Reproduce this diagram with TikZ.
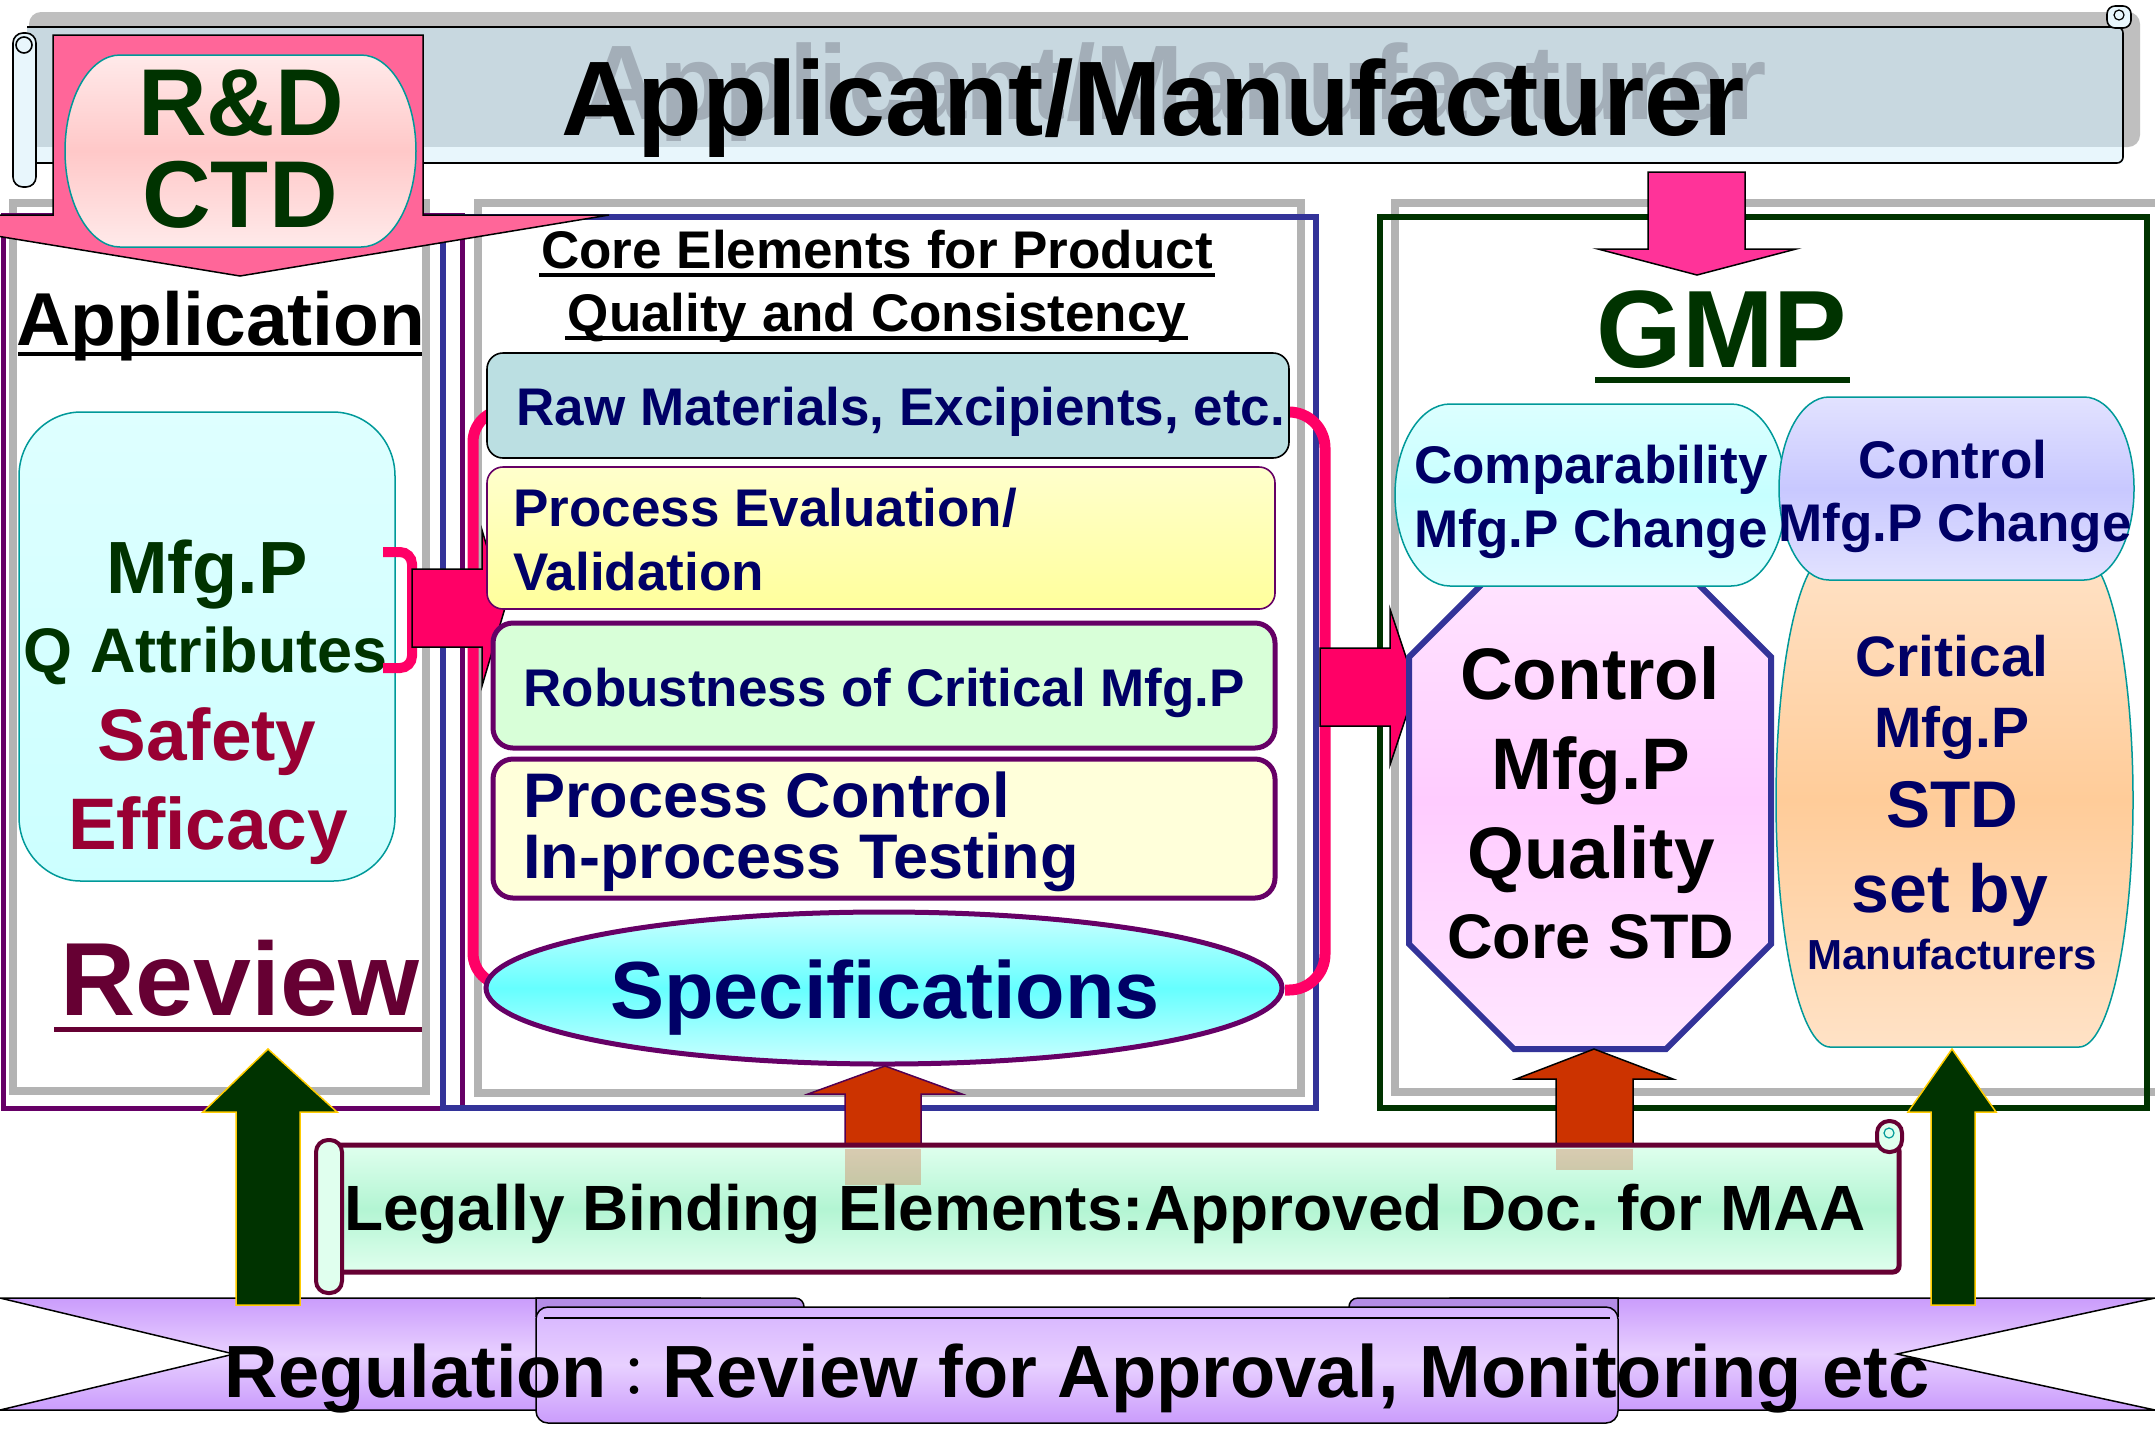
\documentclass[tikz,border=0pt]{standalone}
\usepackage{fontspec}
\setmainfont{Liberation Sans}
\newfontfamily\cjk{Noto Sans CJK JP}
\usetikzlibrary{shapes.geometric}
\definecolor{navy}{HTML}{000066}
\definecolor{dkgreen}{HTML}{003300}
\definecolor{wine}{HTML}{990033}
\definecolor{maroon}{HTML}{660033}
\definecolor{plum}{HTML}{660066}
\definecolor{frameblue}{HTML}{333399}
\definecolor{framegray}{HTML}{B3B3B3}
\definecolor{rdpink}{HTML}{FF6699}
\definecolor{hotpink}{HTML}{FF0066}
\definecolor{gmppink}{HTML}{FF3399}
\definecolor{rust}{HTML}{CC3300}
\definecolor{gold}{HTML}{FFCC00}
\definecolor{tealb}{HTML}{009999}
\definecolor{bannerblue}{HTML}{C8D8E0}
\definecolor{bannerlight}{HTML}{E8F6FC}
\definecolor{pinkA}{HTML}{FFEAEA}
\definecolor{pinkB}{HTML}{FFC8C8}
\definecolor{cyanA}{HTML}{DEFFFF}
\definecolor{cyanB}{HTML}{CCFFFF}
\definecolor{rawfill}{HTML}{BBDFE2}
\definecolor{yel}{HTML}{FFFF9C}
\definecolor{yelA}{HTML}{FFFFCC}
\definecolor{grn}{HTML}{D8FFD8}
\definecolor{pcfill}{HTML}{FFFFDA}
\definecolor{specA}{HTML}{CCFFFF}
\definecolor{specB}{HTML}{66FFFF}
\definecolor{octA}{HTML}{FFE6FF}
\definecolor{octB}{HTML}{FFCCFF}
\definecolor{orA}{HTML}{FFE2C6}
\definecolor{orB}{HTML}{FFCC99}
\definecolor{cmpA}{HTML}{DCFFFF}
\definecolor{cmpB}{HTML}{C6FFFF}
\definecolor{lavA}{HTML}{E2E2FF}
\definecolor{lavB}{HTML}{C8C8FF}
\definecolor{ribA}{HTML}{CA9CFC}
\definecolor{ribB}{HTML}{E8D0FF}
\definecolor{ribC}{HTML}{B48CE6}
\definecolor{ribD}{HTML}{D6B4FF}
\definecolor{lgA}{HTML}{E0FFEE}
\definecolor{lgB}{HTML}{B3F5D3}
\newcommand\F[1]{\fontsize{\dimexpr #1pt/2\relax}{\dimexpr #1pt*6/10\relax}\selectfont\bfseries}
\def\pillpath(#1,#2,#3,#4,#5,#6){(#1+#5,#2) -- (#3-#5,#2) .. controls (#3-0.448*#5,#2) and (#3,#2+0.448*#6) .. (#3,#2+#6) -- (#3,#4-#6) .. controls (#3,#4-0.448*#6) and (#3-0.448*#5,#4) .. (#3-#5,#4) -- (#1+#5,#4) .. controls (#1+0.448*#5,#4) and (#1,#4-0.448*#6) .. (#1,#4-#6) -- (#1,#2+#6) .. controls (#1,#2+0.448*#6) and (#1+0.448*#5,#2) .. (#1+#5,#2) -- cycle}
\frenchspacing
\begin{document}
\begin{tikzpicture}[x=0.5pt,y=-0.5pt,
  lbl/.style={inner sep=0pt, anchor=base},
  lblw/.style={inner sep=0pt, anchor=base west},
  blockarrow/.style={draw=black, line width=0.75pt},
  pillline/.style={draw=tealb, line width=0.75pt},
  grayframe/.style={draw=framegray, line width=4pt},
]
\useasboundingbox (0,0) rectangle (2155,1432);
\fill[white] (0,0) rectangle (2155,1432);

% ---------- top banner ----------
\fill[black!25, rounded corners=6pt] (29,12) rectangle (2140,147);
\fill[bannerblue] (27,27) rectangle (2123,147);
\fill[bannerlight] (27,147) rectangle (2123,163);
\draw[line width=0.8pt, rounded corners=3pt] (27,27) -- (2123,27) -- (2123,163) -- (27,163);
\draw[line width=0.8pt, fill=bannerlight, rounded corners=5pt] (13,33) rectangle (36,187);
\draw[line width=0.8pt] (24,45) circle [radius=4pt];
\draw[line width=0.8pt, fill=bannerlight, rounded corners=4pt] (2107,6) rectangle (2131,28);
\draw[line width=0.6pt] (2119,15) circle [radius=2.5pt];
\node[lbl, font=\F{106}, text={rgb,255:red,163;green,174;blue,184}] (titleshadow) at (1175,119) {Applicant/Manufacturer};
\node[lbl, font=\F{106}] (title) at (1153,135) {Applicant/Manufacturer};

% ---------- frames ----------
\draw[grayframe] (13,203) rectangle (426,1091);
\draw[plum, line width=2.5pt] (3,215) rectangle (462,1108);
\draw[grayframe] (478,203) rectangle (1301,1093);
\draw[frameblue, line width=3pt] (443,217) rectangle (1316,1108);
\draw[grayframe] (1395,203) rectangle (2175,1092);
\draw[dkgreen, line width=3pt] (1380,217) rectangle (2147,1108);

% ---------- R&D arrow ----------
\draw[blockarrow, fill=rdpink] (53,35) -- (423,35) -- (423,215) -- (609,215) -- (240,276) -- (-131,215) -- (53,215) -- cycle;
\draw[pillline, top color=pinkA, bottom color=pinkA, middle color=pinkB] \pillpath(65,55,416,247,55,96);
\node[lbl, font=\F{95}, text=dkgreen] (rd) at (241,135) {R\&D};
\node[lbl, font=\F{95}, text=dkgreen] (ctd) at (240,227) {CTD};

% ---------- left column ----------
\node[lbl, font=\F{75}] (app) at (221,345) {Application};
\draw[line width=2.2pt] (18,354) -- (422,354);
\draw[pillline, top color=cyanA, bottom color=cyanB] \pillpath(19,412,395,881,62,64);
\node[lbl, font=\F{74}, text=dkgreen] (mfg) at (207,593) {Mfg.P};
\node[lbl, font=\F{63}, text=dkgreen] (qattr) at (206,672) {Q Attributes};
\node[lbl, font=\F{73}, text=wine] (safety) at (207,760) {Safety};
\node[lbl, font=\F{73}, text=wine] (efficacy) at (208,849) {Efficacy};
\node[lbl, font=\F{104}, text=maroon] (review) at (240,1015) {Review};
\draw[maroon, line width=2.5pt] (54,1029) -- (422,1029);

% ---------- brackets and pink arrows ----------
\draw[hotpink, line width=5pt, rounded corners=6pt] (383,552) -- (412,552) -- (412,668) -- (383,668);
\draw[hotpink, line width=5.5pt, rounded corners=16pt] (500,410) -- (473,410) -- (473,985) -- (497,985);
\draw[hotpink, line width=5.5pt, rounded corners=18pt] (1285,412) -- (1325,412) -- (1325,990) -- (1285,990);
\draw[blockarrow, fill=hotpink] (412,569) -- (482,569) -- (482,530) -- (505,608) -- (482,686) -- (482,647) -- (412,647) -- cycle;
\draw[blockarrow, fill=hotpink] (1320,648) -- (1390,648) -- (1390,609) -- (1416,687) -- (1390,765) -- (1390,726) -- (1320,726) -- cycle;

% ---------- middle column ----------
\node[lbl, font=\F{53}] (core1) at (877,268) {Core Elements for Product};
\draw[line width=1.6pt] (539,275) -- (1215,275);
\node[lbl, font=\F{53}] (core2) at (877,331) {Quality and Consistency};
\draw[line width=1.6pt] (565,338) -- (1188,338);

\draw[line width=0.8pt, fill=rawfill, rounded corners=8pt] (487,353) rectangle (1289,458);
\node[lblw, font=\F{53}, text=navy] (raw) at (516,425) {Raw Materials, Excipients, etc.};

\draw[plum, line width=0.8pt, top color=yelA, bottom color=yel, rounded corners=8pt] (487,467) rectangle (1275,609);
\node[lblw, font=\F{53}, text=navy] (pe1) at (513,526) {Process Evaluation/};
\node[lblw, font=\F{53}, text=navy] (pe2) at (513,590) {Validation};

\draw[plum, line width=2.5pt, fill=grn, rounded corners=10pt] (493,623) rectangle (1275,748);
\node[lblw, font=\F{53}, text=navy] (rob) at (523,706) {Robustness of Critical Mfg.P};

\draw[plum, line width=2.5pt, fill=pcfill, rounded corners=10pt] (493,759) rectangle (1275,898);
\node[lblw, font=\F{63}, text=navy] (pc1) at (523,817) {Process Control};
\node[lblw, font=\F{63}, text=navy] (pc2) at (523,878) {In-process Testing};

\draw[plum, line width=2.5pt, top color=specA, bottom color=specA, middle color=specB] (884,988) ellipse [x radius=398, y radius=76];
\node[lbl, font=\F{81}, text=navy] (spec) at (885,1018) {Specifications};

% ---------- right column ----------
\draw[blockarrow, fill=gmppink] (1648,172) -- (1745,172) -- (1745,249) -- (1796,249) -- (1697,275) -- (1598,249) -- (1648,249) -- cycle;
\node[lbl, font=\F{110}, text=dkgreen] (gmp) at (1722,367) {GMP};
\draw[dkgreen, line width=2.6pt] (1595,380) -- (1850,380);

\draw[frameblue, line width=3pt, top color=octA, bottom color=octA, middle color=octB] (1514,552) -- (1666,552) -- (1771,657) -- (1771,944) -- (1666,1049) -- (1514,1049) -- (1409,944) -- (1409,657) -- cycle;
\draw[pillline, top color=orA, bottom color=orA, middle color=orB] \pillpath(1776,553,2133,1047,54,247);
\draw[pillline, top color=cmpA, bottom color=cmpA, middle color=cmpB] \pillpath(1395,404,1786,586,55,91);
\draw[pillline, top color=lavA, bottom color=lavA, middle color=lavB] \pillpath(1779,397,2134,580,50,91);

\node[lbl, font=\F{53}, text=navy] (comp1) at (1591,483) {Comparability};
\node[lbl, font=\F{53}, text=navy] (comp2) at (1591,547) {Mfg.P Change};
\node[lbl, font=\F{53}, text=navy] (ctl1) at (1953,478) {Control};
\node[lbl, font=\F{53}, text=navy] (ctl2) at (1955,541) {Mfg.P Change};

\node[lbl, font=\F{73}] (oc1) at (1590,699) {Control};
\node[lbl, font=\F{73}] (oc2) at (1591,789) {Mfg.P};
\node[lbl, font=\F{73}] (oc3) at (1591,878) {Quality};
\node[lbl, font=\F{63}] (oc4) at (1591,958) {Core STD};

\node[lbl, font=\F{57}, text=navy] (cr1) at (1952,676) {Critical};
\node[lbl, font=\F{57}, text=navy] (cr2) at (1952,747) {Mfg.P};
\node[lbl, font=\F{66}, text=navy] (cr3) at (1952,827) {STD};
\node[lbl, font=\F{68}, text=navy] (cr4) at (1950,912) {set by};
\node[lbl, font=\F{42}, text=navy] (cr5) at (1952,969) {Manufacturers};

% ---------- regulation ribbon ----------
\draw[line width=0.75pt, top color=ribA, bottom color=ribA, middle color=ribB] (0,1298) -- (700,1298) -- (700,1410) -- (0,1410) -- (234,1354) -- cycle;
\draw[line width=0.75pt, top color=ribA, bottom color=ribA, middle color=ribB] (2155,1298) -- (1450,1298) -- (1450,1410) -- (2155,1410) -- (1897,1354) -- cycle;
\draw[line width=0.75pt, fill=ribC] (536,1298) -- (795,1298) .. controls (807,1298) and (807,1316) .. (795,1316) -- (536,1316) -- cycle;
\draw[line width=0.75pt, fill=ribC] (1618,1298) -- (1358,1298) .. controls (1346,1298) and (1346,1316) .. (1358,1316) -- (1618,1316) -- cycle;
\draw[line width=0.75pt, top color=ribD, bottom color=ribA, middle color=ribB, rounded corners=6pt] (536,1307) rectangle (1618,1423);
\draw[line width=0.6pt] (544,1318) -- (1610,1318);
\node[lbl, font=\F{74}] (reg) at (1077,1397) {Regulation{\cjk\mdseries\fontsize{28pt}{32pt}\selectfont ：}Review for Approval, Monitoring etc};

% ---------- orange arrows (upper parts) ----------
\draw[draw=plum!80!black, line width=0.75pt, fill=rust] (885,1066) -- (962,1094) -- (921,1094) -- (921,1146) -- (845,1146) -- (845,1094) -- (808,1094) -- cycle;
\draw[blockarrow, fill=rust] (1594,1049) -- (1673,1079) -- (1633,1079) -- (1633,1146) -- (1556,1146) -- (1556,1079) -- (1516,1079) -- cycle;

% ---------- legally binding banner ----------
\draw[maroon, line width=2.5pt, top color=lgA, bottom color=lgA, middle color=lgB, rounded corners=3pt] (330,1145) rectangle (1899,1272);
\draw[maroon, line width=2pt, fill=lgA, rounded corners=6pt] (316,1140) rectangle (342,1293);
\draw[maroon, line width=2pt, fill=lgA, rounded corners=6pt] (1877,1121) rectangle (1902,1152);
\draw[tealb, line width=0.6pt] (1889,1133) circle [radius=2.5pt];
\fill[rust, opacity=0.25] (845,1149) rectangle (921,1185);
\fill[rust, opacity=0.25] (1556,1149) rectangle (1633,1170);
\node[lbl, font=\F{64}] (legal) at (1105,1230) {Legally Binding Elements:Approved Doc. for MAA};

% ---------- green arrows ----------
\draw[draw=gold, line width=0.75pt, fill=dkgreen] (268,1049) -- (337,1112) -- (300,1112) -- (300,1305) -- (236,1305) -- (236,1112) -- (203,1112) -- cycle;
\draw[draw=gold, line width=0.75pt, fill=dkgreen] (1952,1049) -- (1996,1112) -- (1975,1112) -- (1975,1305) -- (1931,1305) -- (1931,1112) -- (1908,1112) -- cycle;
\end{tikzpicture}
\end{document}
